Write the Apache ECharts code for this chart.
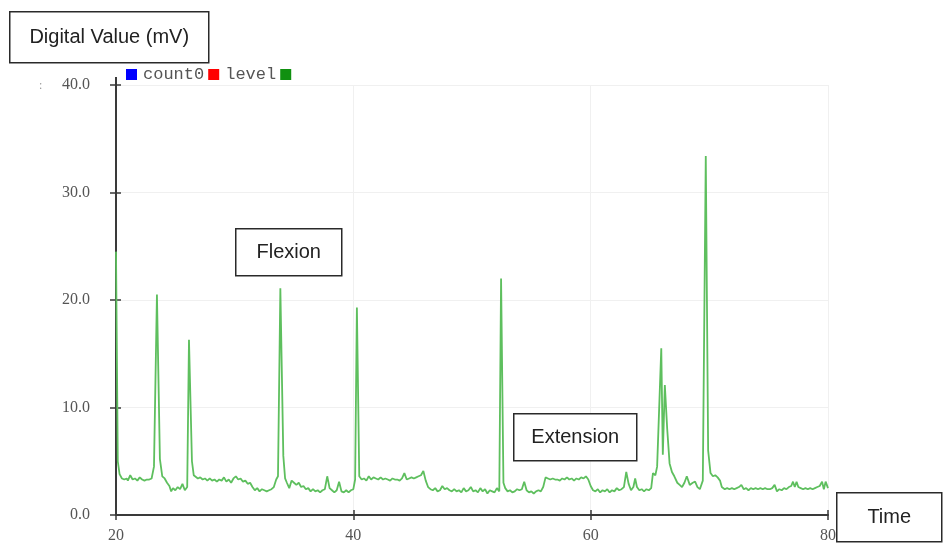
<!DOCTYPE html>
<html>
<head>
<meta charset="utf-8">
<title>Digital Value (mV)</title>
<script src="https://cdn.jsdelivr.net/npm/echarts@6/dist/echarts.min.js"></script>
<style>
    html, body { margin: 0; padding: 0; background: #fff; }
    #chart { width: 943px; height: 545px; }
</style>
</head>
<body>
<div id="chart"></div>
<script>
// legend entries as shown on the recording screen
var legendNames = ['count0', 'level', ' '];
var legendColors = ['#0000ff', '#ff0000', '#109010'];

// y ticks / x ticks
var yTicks = [0, 10, 20, 30, 40];
var xTicks = [20, 40, 60, 80];

// samples: [time, mV]
var levelSamples = [
    [20.0, 24.5], [20.15, 5.0], [20.3, 3.8], [20.5, 3.4], [20.7, 3.3], [20.9, 3.4], [21.0, 3.2], [21.2, 3.7],
    [21.4, 3.3], [21.6, 3.4], [21.8, 3.2], [22.0, 3.5], [22.2, 3.3], [22.4, 3.2], [22.6, 3.3], [22.8, 3.3],
    [23.0, 3.4], [23.2, 4.5], [23.45, 20.5], [23.7, 5.2], [23.9, 3.6], [24.1, 3.4], [24.3, 3.0], [24.5, 2.7],
    [24.65, 2.2], [24.8, 2.5], [25.0, 2.3], [25.2, 2.6], [25.4, 2.4], [25.6, 2.9], [25.8, 2.3], [26.0, 2.6],
    [26.15, 16.3], [26.4, 5.0], [26.55, 3.7], [26.7, 3.6], [26.9, 3.4], [27.1, 3.5], [27.3, 3.3], [27.5, 3.4],
    [27.7, 3.2], [27.9, 3.4], [28.1, 3.2], [28.3, 3.3], [28.5, 3.1], [28.7, 3.3], [28.9, 3.2], [29.1, 3.5],
    [29.3, 3.1], [29.5, 3.3], [29.7, 3.0], [29.9, 3.4], [30.1, 3.6], [30.3, 3.3], [30.5, 3.4], [30.7, 3.1],
    [30.9, 3.2], [31.1, 2.9], [31.3, 3.0], [31.5, 2.6], [31.7, 2.3], [31.9, 2.5], [32.1, 2.2], [32.3, 2.4],
    [32.5, 2.3], [32.7, 2.2], [32.9, 2.3], [33.1, 2.4], [33.3, 2.6], [33.5, 3.3], [33.65, 3.6], [33.85, 21.1],
    [34.1, 5.5], [34.25, 3.4], [34.4, 3.0], [34.6, 2.5], [34.8, 3.2], [35.0, 3.0], [35.2, 2.8], [35.4, 3.0],
    [35.6, 2.6], [35.8, 2.7], [36.0, 2.4], [36.2, 2.5], [36.4, 2.2], [36.6, 2.4], [36.8, 2.2], [37.0, 2.3],
    [37.2, 2.1], [37.4, 2.3], [37.6, 2.4], [37.8, 3.6], [38.0, 2.5], [38.2, 2.3], [38.4, 2.1], [38.6, 2.3],
    [38.8, 3.1], [39.0, 2.2], [39.2, 2.1], [39.4, 2.3], [39.6, 2.1], [39.8, 2.3], [40.0, 2.4], [40.15, 3.3],
    [40.3, 19.3], [40.5, 3.6], [40.7, 3.3], [40.9, 3.4], [41.1, 3.2], [41.3, 3.6], [41.5, 3.3], [41.7, 3.5],
    [41.9, 3.4], [42.1, 3.3], [42.3, 3.5], [42.5, 3.3], [42.7, 3.4], [42.9, 3.3], [43.1, 3.2], [43.3, 3.4],
    [43.5, 3.3], [43.7, 3.3], [43.9, 3.2], [44.1, 3.4], [44.3, 3.9], [44.5, 3.3], [44.7, 3.4], [44.9, 3.5],
    [45.1, 3.4], [45.3, 3.5], [45.5, 3.6], [45.7, 3.7], [45.9, 4.1], [46.1, 3.2], [46.3, 2.6], [46.5, 2.4],
    [46.7, 2.3], [46.9, 2.5], [47.1, 2.2], [47.3, 2.3], [47.5, 2.7], [47.7, 2.4], [47.9, 2.5], [48.1, 2.3],
    [48.3, 2.2], [48.5, 2.4], [48.7, 2.2], [48.9, 2.3], [49.1, 2.1], [49.3, 2.5], [49.5, 2.2], [49.7, 2.3],
    [49.9, 2.6], [50.1, 2.2], [50.3, 2.3], [50.5, 2.1], [50.7, 2.5], [50.9, 2.2], [51.1, 2.4], [51.3, 2.0],
    [51.5, 2.3], [51.7, 2.2], [51.9, 2.1], [52.1, 2.5], [52.3, 2.2], [52.45, 22.0], [52.65, 3.0], [52.8, 2.5],
    [53.0, 2.2], [53.2, 2.3], [53.4, 2.1], [53.6, 2.2], [53.8, 2.4], [54.0, 2.3], [54.2, 2.4], [54.4, 3.1],
    [54.6, 2.3], [54.8, 2.1], [55.0, 2.2], [55.2, 2.0], [55.4, 2.2], [55.6, 2.3], [55.8, 2.2], [56.0, 2.6],
    [56.2, 3.5], [56.4, 3.4], [56.6, 3.3], [56.8, 3.4], [57.0, 3.3], [57.2, 3.3], [57.4, 3.2], [57.6, 3.4],
    [57.8, 3.3], [58.0, 3.5], [58.2, 3.3], [58.4, 3.4], [58.6, 3.2], [58.8, 3.4], [59.0, 3.3], [59.2, 3.5],
    [59.4, 3.4], [59.6, 3.6], [59.8, 3.3], [60.0, 2.7], [60.2, 2.3], [60.4, 2.2], [60.6, 2.4], [60.8, 2.1],
    [61.0, 2.3], [61.2, 2.2], [61.4, 2.4], [61.6, 2.1], [61.8, 2.3], [62.0, 2.2], [62.2, 2.5], [62.4, 2.3],
    [62.6, 2.4], [62.8, 2.6], [63.0, 4.0], [63.2, 2.9], [63.4, 2.3], [63.6, 2.6], [63.75, 3.4], [63.9, 2.6],
    [64.1, 2.3], [64.3, 2.4], [64.5, 2.2], [64.7, 2.4], [64.9, 2.3], [65.1, 2.5], [65.25, 3.9], [65.45, 3.7],
    [65.6, 4.5], [65.95, 15.5], [66.08, 5.6], [66.25, 12.1], [66.45, 8.0], [66.65, 4.8], [66.85, 4.0], [67.05, 3.6],
    [67.3, 3.0], [67.5, 2.8], [67.7, 2.6], [67.9, 3.0], [68.1, 3.6], [68.35, 2.8], [68.6, 3.0], [68.8, 3.1],
    [69.0, 2.6], [69.2, 2.4], [69.45, 3.2], [69.7, 33.4], [69.9, 6.0], [70.1, 3.9], [70.3, 3.6], [70.5, 3.7],
    [70.7, 3.5], [70.9, 3.2], [71.05, 2.6], [71.3, 2.4], [71.5, 2.5], [71.7, 2.4], [71.9, 2.5], [72.1, 2.4],
    [72.3, 2.5], [72.5, 2.6], [72.7, 2.8], [72.9, 2.4], [73.1, 2.5], [73.3, 2.3], [73.5, 2.5], [73.7, 2.4],
    [73.9, 2.5], [74.1, 2.4], [74.3, 2.5], [74.5, 2.4], [74.7, 2.5], [74.9, 2.4], [75.1, 2.4], [75.3, 2.5],
    [75.5, 2.8], [75.7, 2.2], [75.9, 2.4], [76.1, 2.3], [76.3, 2.5], [76.5, 2.4], [76.7, 2.6], [76.9, 2.7],
    [77.05, 3.1], [77.2, 2.6], [77.35, 3.1], [77.5, 2.6], [77.7, 2.5], [77.9, 2.4], [78.1, 2.5], [78.3, 2.4],
    [78.5, 2.5], [78.7, 2.4], [78.9, 2.5], [79.1, 2.6], [79.3, 2.7], [79.5, 3.1], [79.65, 2.4], [79.8, 3.1],
    [80.0, 2.5]
];

var chart = echarts.init(document.getElementById('chart'));

var serifFont = '"Liberation Serif", "DejaVu Serif", serif';
var boxFont = '"Liberation Sans", "Noto Sans", sans-serif';

// annotation box: white rect with dark border + centered label (kept above the grid lines)
function labelBox(x, y, w, h, text) {
    return {
        type: 'group',
        left: x,
        top: y,
        z: 100,
        children: [
            {
                type: 'rect',
                z: 100,
                shape: { x: 0, y: 0, width: w, height: h },
                style: { fill: '#fff', stroke: '#2a2a2a', lineWidth: 1.5 }
            },
            {
                type: 'text',
                z: 101,
                x: w / 2,
                y: h / 2,
                style: {
                    text: text,
                    fill: '#222',
                    font: '20px ' + boxFont,
                    align: 'center',
                    verticalAlign: 'middle'
                }
            }
        ]
    };
}

var axisColor = '#3a3a3a';

var options = {
    animation: false,
    backgroundColor: '#fff',
    grid: { left: 116, right: 115, top: 85, bottom: 30 },
    legend: {
        left: 121,
        top: 61,
        itemWidth: 11,
        itemHeight: 11,
        itemGap: 4,
        icon: 'rect',
        selectedMode: false,
        data: legendNames,
        textStyle: {
            fontFamily: '"Liberation Mono", "DejaVu Sans Mono", monospace',
            fontSize: 17,
            color: '#555',
            padding: [0, 0, 0, 1]
        }
    },
    xAxis: [
        {
            type: 'value',
            min: 20,
            max: 80,
            interval: 20,
            axisLine: { show: true, lineStyle: { color: axisColor, width: 2 } },
            axisTick: { show: true, length: 5, lineStyle: { color: axisColor, width: 1.5 } },
            axisLabel: {
                margin: 13,
                fontFamily: serifFont,
                fontSize: 16,
                color: '#555',
                customValues: xTicks
            },
            splitLine: { show: true, lineStyle: { color: '#f0f0f0', width: 1 } }
        },
        {
            // inner half of the cross ticks
            type: 'value',
            position: 'bottom',
            min: 20,
            max: 80,
            interval: 20,
            axisLine: { show: false },
            axisTick: { show: true, inside: true, length: 5, lineStyle: { color: axisColor, width: 1.5 } },
            axisLabel: { show: false },
            splitLine: { show: false }
        }
    ],
    yAxis: [
        {
            type: 'value',
            min: 0,
            max: 40,
            interval: 10,
            axisLine: { show: true, lineStyle: { color: axisColor, width: 2 } },
            axisTick: { show: true, length: 6, lineStyle: { color: axisColor, width: 1.5 } },
            axisLabel: {
                margin: 26,
                fontFamily: serifFont,
                fontSize: 16,
                color: '#555',
                formatter: function (v) { return v.toFixed(1); }
            },
            splitLine: { show: true, lineStyle: { color: '#f0f0f0', width: 1 } }
        },
        {
            type: 'value',
            position: 'left',
            min: 0,
            max: 40,
            interval: 10,
            axisLine: { show: false },
            axisTick: { show: true, inside: true, length: 5, lineStyle: { color: axisColor, width: 1.5 } },
            axisLabel: { show: false },
            splitLine: { show: false }
        }
    ],
    series: [
        { name: legendNames[0], type: 'line', data: [], itemStyle: { color: legendColors[0] } },
        { name: legendNames[1], type: 'line', data: [], itemStyle: { color: legendColors[1] } },
        {
            name: legendNames[2],
            type: 'line',
            data: levelSamples,
            showSymbol: false,
            smooth: false,
            itemStyle: { color: legendColors[2] },
            lineStyle: { color: '#5ebf5e', width: 1.8 }
        }
    ],
    graphic: [
        labelBox(9, 11, 199, 51, 'Digital Value (mV)'),
        labelBox(235, 228, 106, 47, 'Flexion'),
        labelBox(513, 413, 123, 47, 'Extension'),
        labelBox(836, 492, 105, 49, 'Time'),
        {
            type: 'text',
            left: 39,
            top: 80,
            style: { text: ':', fill: '#999', font: '12px ' + serifFont }
        },
        {
            // axis line pokes a bit above the 40.0 tick
            type: 'line',
            shape: { x1: 116, y1: 77, x2: 116, y2: 85 },
            style: { stroke: axisColor, lineWidth: 2 }
        }
    ]
};

chart.setOption(options);
</script>
</body>
</html>
